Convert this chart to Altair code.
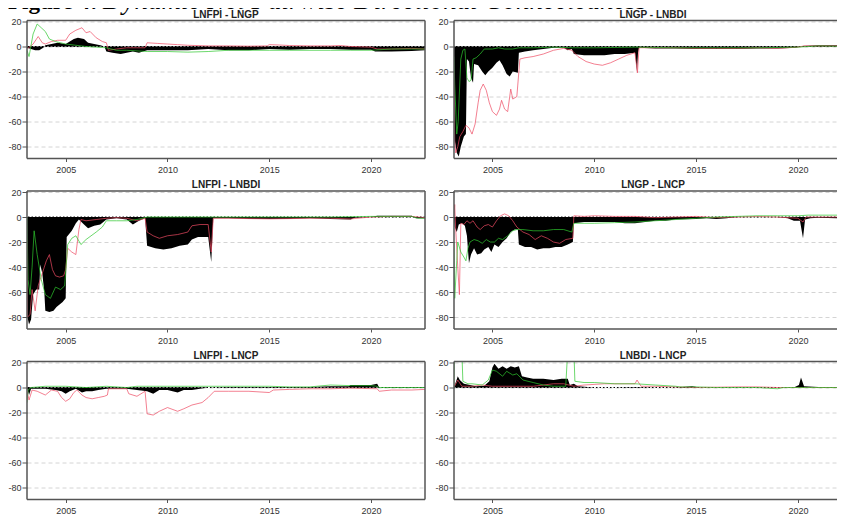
import altair as alt
import pandas as pd

TITLES = ["LNFPI - LNGP", "LNGP - LNBDI", "LNFPI - LNBDI",
          "LNGP - LNCP", "LNFPI - LNCP", "LNBDI - LNCP"]
FIG_LABEL = "Figure 4:"
FIG_TITLE = "Dynamic Net Pairwise Directional Connectedness"
X_TICKS = [2005, 2010, 2015, 2020]
Y_TICKS = [20, 0, -20, -40, -60, -80]
X_DOMAIN_LEFT = [2003.1, 2022.65]
X_DOMAIN_RIGHT = [2003.115, 2022.36]
Y_DOMAIN = [-89.5, 20.8]

# ---------------- Panel 1: LNFPI - LNGP ----------------
P1_NET_X = [2003.1, 2003.3, 2003.5, 2003.7, 2003.9, 2004.0, 2004.3, 2004.6, 2005.0, 2005.2,
            2005.4, 2005.6, 2005.9, 2006.1, 2006.4, 2006.7, 2006.9, 2007.0, 2007.3, 2007.7,
            2008.0, 2008.3, 2008.6, 2009.0, 2010.0, 2011.0, 2012.0, 2013.0, 2014.0, 2015.0,
            2016.0, 2017.0, 2018.0, 2019.0, 2020.0, 2020.2, 2021.0, 2022.0, 2022.65]
P1_NET_Y = [-1, -2, -3, -3, -1, 1, 2, 3, 2, 4,
            6, 7, 6, 3, 2, 1, 0, -4, -5, -6,
            -5, -4, -5, -3, -3, -3, -2, -3, -3, -2,
            -2.5, -2, -2, -2.5, -2.5, -4, -4, -3.5, -3]
P1_RED_X = [2003.1, 2003.4, 2003.65, 2003.85, 2004.0, 2004.3, 2004.6, 2005.0, 2005.2, 2005.5,
            2005.8, 2006.0, 2006.2, 2006.5, 2006.8, 2007.0, 2007.1, 2007.5, 2008.0, 2008.5,
            2008.9, 2009.0, 2009.5, 2010.0, 2010.5, 2011.0, 2012.0, 2013.0, 2014.0, 2014.9,
            2015.0, 2015.5, 2016.0, 2017.0, 2018.0, 2018.5, 2019.0, 2020.0, 2020.3, 2021.0,
            2022.0, 2022.65]
P1_RED_Y = [-2, 2, 8, 3, 2, 4, 5, 5, 10, 13,
            15, 11, 12, 7, 4, 3, -3, -2, -1, -1,
            -1, 3, 2.5, 2, 1.5, 1, 0.5, 0.5, 0.3, 0.5,
            1.5, 1.2, 0.8, 0.5, 0.5, 0.8, 0, -0.5, -2, -2,
            -1.5, -2]
P1_GRN_X = [2003.1, 2003.2, 2003.4, 2003.6, 2003.8, 2004.0, 2004.2, 2004.5, 2005.0, 2005.5,
            2006.0, 2006.5, 2007.0, 2007.5, 2008.0, 2009.0, 2010.0, 2011.0, 2012.0, 2013.0,
            2014.0, 2015.0, 2016.0, 2017.0, 2018.0, 2019.0, 2020.0, 2021.0, 2022.0, 2022.65]
P1_GRN_Y = [-3, -8, 10, 18, 15, 12, 6, 4, 2, 1,
            0, -0.5, -1, -3, -3, -4, -4, -4.5, -4, -3,
            -3, -3, -3, -3, -3, -3, -3, -2, -2, -2]

# ---------------- Panel 2: LNGP - LNBDI ----------------
P2_NET_X = [2003.11, 2003.15, 2003.25, 2003.35, 2003.45, 2003.6, 2003.7, 2003.75, 2003.85, 2003.95,
            2004.05, 2004.1, 2004.3, 2004.5, 2004.65, 2004.8, 2005.0, 2005.2, 2005.35, 2005.5,
            2005.7, 2005.85, 2006.0, 2006.25, 2006.3, 2006.6, 2007.0, 2007.5, 2008.0, 2008.5,
            2008.7, 2008.9, 2009.0, 2009.5, 2010.0, 2010.5, 2011.0, 2011.5, 2012.0, 2012.1,
            2012.15, 2012.2, 2013.0, 2014.0, 2015.0, 2016.0, 2017.0, 2018.0, 2019.0, 2019.9,
            2020.2, 2021.0, 2022.0, 2022.65]
P2_NET_Y = [0, -75, -85, -88, -80, -72, -70, -10, -12, -25,
            -29, -14, -15, -20, -23, -20, -17, -13, -11, -15,
            -22, -24, -20, -21, -5, -4, -3, -2, -1, -1,
            -3, -2, -6, -7, -7, -7, -6, -6, -5, -20,
            -5, -1, -1.5, -1.5, -2, -2, -2, -1.5, -1.5, -1,
            0.5, 1, 1, 0.5]
P2_RED_X = [2003.11, 2003.15, 2003.2, 2003.3, 2003.4, 2003.55, 2003.7, 2003.85, 2004.0, 2004.15,
            2004.3, 2004.4, 2004.55, 2004.7, 2004.85, 2005.0, 2005.2, 2005.35, 2005.45, 2005.6,
            2005.75, 2005.9, 2006.0, 2006.2, 2006.35, 2006.6, 2007.0, 2007.5, 2008.0, 2008.5,
            2008.9, 2009.2, 2009.6, 2010.0, 2010.4, 2010.8, 2011.2, 2011.6, 2012.0, 2012.12,
            2012.2, 2013.0, 2014.0, 2015.0, 2016.0, 2017.0, 2018.0, 2019.0, 2020.0, 2020.3,
            2021.0, 2022.0, 2022.65]
P2_RED_Y = [-20, -75, -85, -80, -72, -68, -63, -65, -70, -62,
            -45, -35, -30, -35, -45, -52, -55, -50, -43, -50,
            -52, -34, -42, -40, -10, -9, -8, -6, -3, -1.5,
            -3, -8, -12, -14, -15, -13, -10, -7, -5, -21,
            -1, -1, -1, -1.5, -1.5, -1.5, -1, -1.5, -0.5, 0.5,
            0.5, 0.5, 0]
P2_GRN_X = [2003.11, 2003.15, 2003.25, 2003.32, 2003.45, 2003.55, 2003.65, 2003.75, 2003.85, 2003.95,
            2004.05, 2004.2, 2004.4, 2004.6, 2005.0, 2005.3, 2005.6, 2006.0, 2006.3, 2007.0,
            2008.0, 2009.0, 2010.0, 2012.0, 2014.0, 2016.0, 2018.0, 2020.0, 2021.0, 2022.65]
P2_GRN_Y = [-8, -30, -70, -60, -10, -3, -2, -25, -28, -27,
            -10, -9, -6, -2, -2, -1, -2, -2, -1, -1,
            -0.5, -1, -1, -0.5, -1, -1, -1, -0.5, 0.5, 0]

# ---------------- Panel 3: LNFPI - LNBDI ----------------
P3_NET_X = [2003.1, 2003.12, 2003.2, 2003.3, 2003.4, 2003.55, 2003.7, 2003.75, 2003.85, 2003.95,
            2004.0, 2004.2, 2004.4, 2004.55, 2004.7, 2004.85, 2005.0, 2005.05, 2005.3, 2005.5,
            2005.65, 2005.9, 2006.1, 2006.4, 2006.7, 2007.0, 2007.5, 2008.0, 2008.3, 2008.6,
            2008.9, 2009.0, 2009.4, 2009.8, 2010.2, 2010.6, 2011.0, 2011.2, 2011.5, 2012.0,
            2012.15, 2012.25, 2013.0, 2014.0, 2015.0, 2016.0, 2017.0, 2018.0, 2019.0, 2019.2,
            2020.0, 2020.3, 2021.0, 2022.0, 2022.2, 2022.65]
P3_NET_Y = [0, -80, -86, -82, -62, -58, -58, -38, -45, -60,
            -75, -76, -75, -72, -70, -68, -65, -16, -11, -5,
            -2, -6, -9, -7, -6, -2, -1, -2, -6, -3,
            -1, -23, -25, -26, -25, -23, -22, -18, -16, -16,
            -36, -1, -1, -1.5, -1.5, -1.5, -1, -1.5, -2, -0.5,
            0, 1, 1, 1, -1, -1]
P3_RED_X = [2003.1, 2003.12, 2003.25, 2003.35, 2003.5, 2003.65, 2003.75, 2003.85, 2003.95, 2004.05,
            2004.2, 2004.35, 2004.5, 2004.7, 2004.9, 2005.0, 2005.1, 2005.3, 2005.5, 2005.65,
            2005.75, 2006.0, 2006.5, 2007.0, 2007.5, 2008.0, 2008.5, 2008.9, 2009.0, 2009.3,
            2009.6, 2010.0, 2010.5, 2011.0, 2011.2, 2011.6, 2012.0, 2012.15, 2012.25, 2013.0,
            2015.0, 2017.0, 2018.0, 2019.0, 2020.0, 2021.0, 2022.0, 2022.65]
P3_RED_Y = [-20, -80, -78, -58, -75, -55, -50, -45, -40, -35,
            -30, -42, -47, -48, -47, -42, -25, -28, -30, -10,
            -2, -3, -2, -1, -0.5, -1, -3, -1, -12, -15,
            -17, -15, -14, -12, -7, -6, -6, -28, -1, -1,
            -1.5, -1, -1, -1.5, 0, 0.5, 0.5, -0.5]
P3_GRN_X = [2003.1, 2003.15, 2003.25, 2003.35, 2003.45, 2003.6, 2003.8, 2004.0, 2004.25, 2004.5,
            2004.75, 2004.95, 2005.1, 2005.3, 2005.5, 2005.75, 2006.0, 2006.5, 2006.8, 2007.0,
            2007.5, 2008.0, 2008.5, 2009.0, 2010.0, 2012.0, 2015.0, 2018.0, 2020.0, 2021.0,
            2022.0, 2022.3, 2022.65]
P3_GRN_Y = [0, -50, -62, -40, -11, -30, -50, -62, -65, -56,
            -58, -55, -22, -17, -15, -22, -18, -12, -8, -3,
            -3, -3, -2, 0, 0, 0, 0, 0, 0.5, 0.5,
            0.5, -1, -1]

# ---------------- Panel 4: LNGP - LNCP ----------------
P4_NET_X = [2003.11, 2003.15, 2003.25, 2003.35, 2003.5, 2003.65, 2003.75, 2003.85, 2003.95, 2004.1,
            2004.25, 2004.45, 2004.6, 2004.8, 2004.95, 2005.1, 2005.3, 2005.5, 2005.7, 2005.9,
            2006.1, 2006.25, 2006.3, 2006.6, 2006.9, 2007.2, 2007.5, 2007.8, 2008.1, 2008.4,
            2008.7, 2008.95, 2009.0, 2009.5, 2010.0, 2010.5, 2011.0, 2011.5, 2012.0, 2012.5,
            2013.0, 2013.5, 2014.0, 2015.0, 2015.5, 2016.0, 2016.5, 2017.0, 2018.0, 2019.0,
            2019.5, 2019.8, 2020.1, 2020.25, 2020.35, 2020.6, 2021.0, 2022.0, 2022.65]
P4_NET_Y = [0, -8, -12, -6, -5, -7, -15, -37, -30, -25,
            -30, -29, -26, -24, -28, -22, -24, -20, -17, -12,
            -10, -10, -22, -24, -24, -26, -25, -25, -24, -24,
            -22, -20, -5, -4, -4, -4, -4, -5, -5, -4,
            -3, -3, -2, -1.5, -1, -1.5, -1, 0, 0, 0,
            -1, -3, -3, -17, -2, -1, -0.5, -1, -1]
P4_RED_X = [2003.11, 2003.15, 2003.2, 2003.3, 2003.38, 2003.45, 2003.6, 2003.75, 2003.9, 2004.05,
            2004.25, 2004.4, 2004.6, 2004.8, 2005.0, 2005.2, 2005.4, 2005.6, 2005.8, 2006.0,
            2006.2, 2006.5, 2006.8, 2007.1, 2007.4, 2007.7, 2008.0, 2008.3, 2008.6, 2008.95,
            2009.0, 2009.5, 2010.0, 2011.0, 2012.0, 2013.0, 2014.0, 2015.0, 2016.0, 2017.0,
            2018.0, 2019.0, 2020.0, 2020.25, 2020.4, 2021.0, 2022.0, 2022.65]
P4_RED_Y = [0, 10, -10, -40, -62, -5, -6, -3, -5, -3,
            -8, -10, -7, -6, -8, -3, 1, 2.5, 1, -3,
            -8, -12, -14, -18, -15, -17, -20, -21, -18, -17,
            1, 0.5, 1, 0.5, 0.5, -0.5, 0, 0.5, -0.5, 0,
            0.5, 0, -1, -4, 0, 0, 0, 0]
P4_GRN_X = [2003.11, 2003.15, 2003.25, 2003.3, 2003.45, 2003.6, 2003.7, 2003.8, 2003.9, 2004.1,
            2004.3, 2004.5, 2004.7, 2004.9, 2005.1, 2005.3, 2005.5, 2005.75, 2006.0, 2006.2,
            2006.5, 2007.0, 2007.5, 2008.0, 2008.5, 2008.9, 2009.0, 2009.5, 2010.0, 2011.0,
            2012.0, 2013.0, 2014.0, 2015.0, 2016.0, 2017.0, 2018.0, 2019.0, 2020.0, 2020.5,
            2021.0, 2022.0, 2022.65]
P4_GRN_Y = [-20, -65, -35, -20, -28, -32, -35, -25, -20, -18,
            -19, -21, -18, -20, -20, -17, -18, -15, -11, -10,
            -10, -11, -11, -10, -10, -12, -5, -5, -5, -4.5,
            -4, -3, -2, -1, 0, 0.5, 1, 1, 1, 1.5,
            1.5, 1.5, 2]

# ---------------- Panel 5: LNFPI - LNCP ----------------
P5_NET_X = [2003.1, 2003.15, 2003.2, 2003.3, 2004.0, 2004.5, 2004.8, 2005.0, 2005.2, 2005.5,
            2005.8, 2006.0, 2006.3, 2006.6, 2007.0, 2008.0, 2008.5, 2009.0, 2009.3, 2009.6,
            2010.0, 2010.5, 2010.8, 2011.2, 2011.6, 2012.0, 2013.0, 2015.0, 2016.0, 2017.0,
            2018.0, 2018.9, 2019.0, 2020.0, 2020.3, 2020.4, 2021.0, 2022.0, 2022.65]
P5_NET_Y = [0, -3, -6, -1, -1, -2, -3, -5, -3, -1,
            -4, -3, -3, -2, -1, -1, -2, -3, -5, -2,
            -2, -4, -2, -2, -1, 0, 0.5, 0.5, 0.5, 0.5,
            1, 1, 2, 2, 3, 0, 0.5, 0.5, 0.5]
P5_RED_X = [2003.1, 2003.2, 2003.35, 2003.6, 2004.0, 2004.3, 2004.6, 2004.8, 2005.0, 2005.2,
            2005.4, 2005.55, 2005.8, 2006.0, 2006.3, 2006.6, 2006.9, 2007.05, 2007.1, 2008.0,
            2008.1, 2008.5, 2008.9, 2009.0, 2009.3, 2009.6, 2010.0, 2010.5, 2010.8, 2011.2,
            2011.7, 2012.0, 2012.3, 2013.0, 2014.0, 2015.0, 2015.2, 2016.0, 2017.0, 2018.0,
            2019.0, 2020.3, 2020.4, 2021.0, 2022.0, 2022.65]
P5_RED_Y = [-3, -10, -2, -3, -6, -2, -3, -8, -11, -9,
            -4, -2, -6, -8, -9, -8, -7, -6, -1, -1,
            -5, -7, -3, -21, -22, -19, -16, -19, -17, -14,
            -12, -8, -3, -3, -3, -4, -2, -1.5, -1, -1,
            -0.5, -1, -3, -2, -2, -1.5]
P5_GRN_X = [2003.1, 2003.15, 2003.3, 2004.0, 2005.0, 2006.0, 2007.0, 2008.0, 2008.5, 2010.0,
            2012.0, 2014.0, 2015.0, 2016.0, 2017.0, 2018.0, 2019.0, 2020.0, 2020.3, 2020.4,
            2021.0, 2022.65]
P5_GRN_Y = [-12, -2, 0, 1, 1, 0, 1, 0, 1, 1,
            1, 1, 1, 0.5, 0.5, 2, 1.5, 1.5, 1, 0,
            0, 0]

# ---------------- Panel 6: LNBDI - LNCP ----------------
P6_NET_X = [2003.11, 2003.2, 2003.3, 2003.4, 2003.6, 2003.9, 2004.2, 2004.6, 2004.85, 2005.0,
            2005.1, 2005.3, 2005.5, 2005.7, 2005.9, 2006.1, 2006.3, 2006.45, 2006.7, 2007.0,
            2007.5, 2008.0, 2008.4, 2008.7, 2008.8, 2009.0, 2009.2, 2010.0, 2011.0, 2012.0,
            2013.0, 2014.0, 2014.8, 2015.2, 2016.0, 2018.0, 2019.8, 2020.05, 2020.15, 2020.3,
            2021.0, 2022.0, 2022.65]
P6_NET_Y = [0, 4, 9, 6, 3, 2, 1, 1.5, 5, 16,
            19, 15, 17, 15, 17, 16, 17, 9, 8, 7,
            7, 6, 7, 7, 2, 3, 1, 0, 0, 0.5,
            0, 0, 1, 0, 0, 0, 0, 2, 8, 1,
            0.5, 0.5, 0.5]
P6_RED_X = [2003.11, 2003.3, 2003.5, 2004.0, 2004.5, 2005.0, 2006.0, 2007.0, 2007.5, 2008.0,
            2008.5, 2009.0, 2009.5, 2010.5, 2011.5, 2012.0, 2012.1, 2012.3, 2013.0, 2014.0,
            2015.0, 2017.0, 2018.0, 2019.0, 2022.65]
P6_RED_Y = [0, 6, 1, 1, 2, 1, 1, 1, 2, 3,
            3, 1, 2, 3, 3, 3, 6, 1, 1, 0.5,
            0, 0.5, 0.5, 0, 0]
P6_GRN_X = [2003.11, 2003.13, 2003.5, 2003.55, 2003.8, 2004.0, 2004.5, 2004.8, 2005.0, 2005.2,
            2005.5, 2005.7, 2006.0, 2006.2, 2006.5, 2007.0, 2007.5, 2008.0, 2008.6, 2008.7,
            2009.0, 2009.05, 2009.5, 2010.0, 2011.0, 2012.0, 2013.0, 2014.0, 2014.2, 2015.0,
            2016.0, 2018.0, 2019.0, 2019.3, 2020.0, 2022.65]
P6_GRN_Y = [0, 30, 30, 5, 3, 3, 2, 6, 14, 13,
            9, 13, 10, 11, 6, 4, 2, 1, 1, 30,
            30, 5, 4, 4, 3, 3, 2, 1, 0.5, 0.5,
            0, 0, -1, 0, 0, 0]

PANELS = [
    (P1_NET_X, P1_NET_Y, P1_RED_X, P1_RED_Y, P1_GRN_X, P1_GRN_Y),
    (P2_NET_X, P2_NET_Y, P2_RED_X, P2_RED_Y, P2_GRN_X, P2_GRN_Y),
    (P3_NET_X, P3_NET_Y, P3_RED_X, P3_RED_Y, P3_GRN_X, P3_GRN_Y),
    (P4_NET_X, P4_NET_Y, P4_RED_X, P4_RED_Y, P4_GRN_X, P4_GRN_Y),
    (P5_NET_X, P5_NET_Y, P5_RED_X, P5_RED_Y, P5_GRN_X, P5_GRN_Y),
    (P6_NET_X, P6_NET_Y, P6_RED_X, P6_RED_Y, P6_GRN_X, P6_GRN_Y),
]

RED = "#ee4a62"
GREEN = "#2ec82e"
FRAME = "#555555"
W_LEFT, W_RIGHT, H = 398, 392, 138


def one_row():
    return pd.DataFrame({"k": [0]})


def text_layer(txt, x, y, **kw):
    return alt.Chart(pd.DataFrame({"t": [txt]})).mark_text(**kw).encode(
        x=alt.value(x), y=alt.value(y), text="t:N")


def hrule(y, w):
    return alt.Chart(one_row()).mark_rule(color=FRAME, strokeWidth=1.5).encode(
        x=alt.value(0), x2=alt.value(w), y=alt.value(y))


def vrule(x):
    return alt.Chart(one_row()).mark_rule(color=FRAME, strokeWidth=1.5).encode(
        x=alt.value(x), y=alt.value(0), y2=alt.value(H))


def make_panel(idx):
    left = idx % 2 == 0
    w = W_LEFT if left else W_RIGHT
    xdom = X_DOMAIN_LEFT if left else X_DOMAIN_RIGHT
    nx, ny, rx, ry, gx, gy = PANELS[idx]
    xenc = alt.X("x:Q", scale=alt.Scale(domain=xdom, nice=False, zero=False),
                 axis=alt.Axis(values=X_TICKS, format="d", title=None))
    yenc = alt.Y("y:Q", scale=alt.Scale(domain=Y_DOMAIN, nice=False, zero=False),
                 axis=alt.Axis(values=Y_TICKS, title=None, labelExpr="'' + datum.value"))
    net = pd.DataFrame({"x": nx, "y": ny, "y0": [0] * len(nx)})
    red = pd.DataFrame({"x": rx, "y": ry})
    grn = pd.DataFrame({"x": gx, "y": gy})
    area = alt.Chart(net).mark_area(color="black", clip=True, interpolate="linear").encode(
        x=xenc, y=yenc, y2="y0:Q")
    zero = alt.Chart(pd.DataFrame({"y": [0]})).mark_rule(
        color="black", strokeDash=[1.5, 2], strokeWidth=1).encode(y=yenc)
    lred = alt.Chart(red).mark_line(color=RED, opacity=0.7, strokeWidth=1, clip=True).encode(
        x=xenc, y=yenc)
    lgrn = alt.Chart(grn).mark_line(color=GREEN, opacity=0.7, strokeWidth=1, clip=True).encode(
        x=xenc, y=yenc)
    ptitle = text_layer(TITLES[idx], w / 2 if left else W_LEFT / 2, -3, align="center",
                        baseline="alphabetic", font="Liberation Sans", fontSize=10,
                        fontWeight="bold", color="#222")
    layers = [area, zero, lred, lgrn, ptitle, hrule(0, w), hrule(H, w), vrule(0)]
    if left:
        layers.append(vrule(w))
    if idx == 0:
        layers.append(text_layer(FIG_LABEL, -19, -11.5, align="left", baseline="alphabetic",
                                 font="Liberation Serif", fontSize=23, fontWeight="bold",
                                 color="black"))
        layers.append(text_layer(FIG_TITLE, 76, -11.5, align="left", baseline="alphabetic",
                                 font="Liberation Serif", fontSize=27, fontStyle="italic",
                                 color="black"))
    return alt.layer(*layers).properties(width=w, height=H)


chart = alt.concat(*[make_panel(i) for i in range(6)], columns=2,
                   spacing={"row": 32.5, "column": 29}, bounds="flush").properties(
    padding={"left": -1, "top": -21.5, "right": -10, "bottom": -1}
).configure_view(
    strokeOpacity=0
).configure_axis(
    domain=False, labelFont="Liberation Sans", labelFontSize=9, labelColor="#333",
    tickColor="#555", tickWidth=1
).configure_axisX(
    grid=False, tickSize=3, labelPadding=4
).configure_axisY(
    grid=True, gridColor="#d4d4d4", gridDash=[4, 3], gridWidth=1,
    tickSize=5, labelPadding=1
)

chart.save("out.html", embed_options={"renderer": "svg", "actions": False})
